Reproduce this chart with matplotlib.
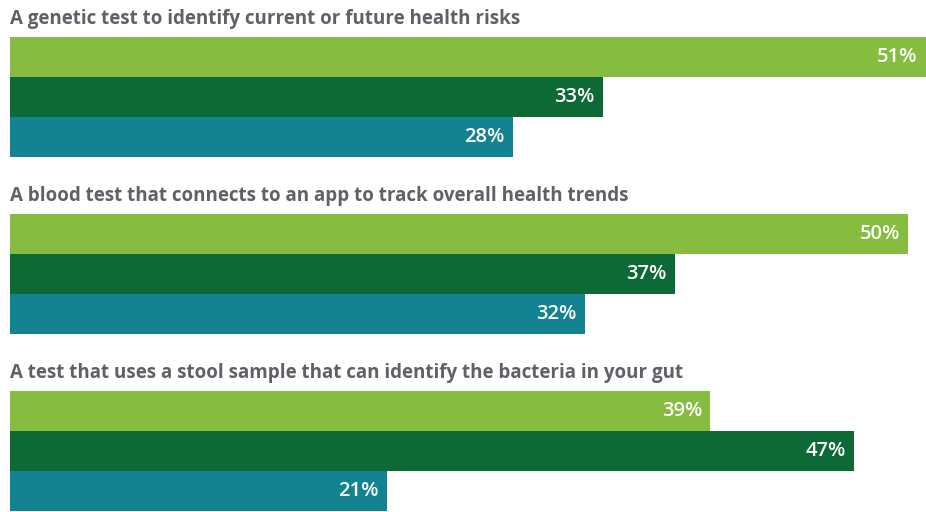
import matplotlib.pyplot as plt

questions = [
    'A genetic test to identify current or future health risks',
    'A blood test that connects to an app to track overall health trends',
    'A test that uses a stool sample that can identify the bacteria in your gut',
]
series_a = [51, 50, 39]
series_b = [33, 37, 47]
series_c = [28, 32, 21]
colors = ['#86bc40', '#0d6a37', '#138392']

fig = plt.figure(figsize=(9.26, 5.12), dpi=100)
ax = fig.add_axes([10 / 926, 0, 916 / 926, 1])
ax.set_xlim(0, 51)
ax.set_ylim(512, 0)
ax.axis('off')

bar_h = 40
titles = []
for i, q in enumerate(questions):
    top = 37 + i * 177
    t = ax.text(0, top - 13, q, fontsize=16.5, fontweight='bold', color='#5f6068',
                family='Open Sans', fontstretch='condensed', ha='left', va='baseline')
    titles.append(t)
    vals = [series_a[i], series_b[i], series_c[i]]
    for j, v in enumerate(vals):
        y = top + j * bar_h + bar_h / 2
        ax.barh(y, v, height=bar_h, color=colors[j], left=0)
        ax.annotate(f'{v}%', (v, y), xytext=(-6, 0), textcoords='offset points',
                    ha='right', va='center', color='white', fontsize=14.5,
                    family='Open Sans', fontweight='semibold')

# shrink the titles if no condensed face was found (first title is ~510 px wide)
r = fig.canvas.get_renderer()
w = titles[0].get_window_extent(r).width
if w > 530:
    for t in titles:
        t.set_fontsize(16.5 * 510 / w)

fig.savefig('out.png', dpi=100)
